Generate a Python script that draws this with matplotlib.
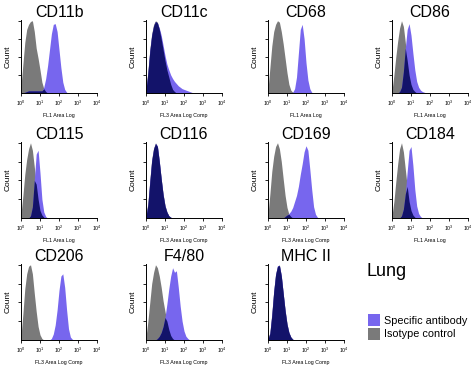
import numpy as np
import matplotlib
matplotlib.use("Agg")
import matplotlib.pyplot as plt
from matplotlib.patches import Patch

plt.rcParams["font.family"] = ["Liberation Sans", "DejaVu Sans"]
plt.rcParams["mathtext.fontset"] = "custom"
plt.rcParams["mathtext.rm"] = "Liberation Sans"

# ---------------- data (counts in % of panel max, bins every 0.1 log10 decade from 10^0) ----
BIN_STEP = 0.1
markers = ["CD11b", "CD11c", "CD68", "CD86",
           "CD115", "CD116", "CD169", "CD184",
           "CD206", "F4/80", "MHC II"]
xlabels = ["FL1 Area Log", "FL3 Area Log Comp", "FL1 Area Log", "FL1 Area Log",
           "FL1 Area Log", "FL3 Area Log Comp", "FL3 Area Log Comp", "FL1 Area Log",
           "FL3 Area Log Comp", "FL3 Area Log Comp", "FL3 Area Log Comp"]

isotype_CD11b = [10, 40, 70, 88, 95, 99, 100, 85, 62, 48, 32, 15, 6, 2]
specific_CD11b = [0, 0, 1, 2, 3, 3, 3, 3, 3, 3, 3, 3, 8, 20, 38, 60, 82, 95, 96, 85, 60, 35, 15, 5, 1]
isotype_CD11c = [5, 30, 60, 82, 95, 100, 98, 88, 75, 60, 45, 32, 22, 12, 5, 2]
specific_CD11c = [4, 28, 58, 80, 93, 99, 97, 90, 80, 66, 52, 40, 32, 25, 20, 16, 13, 10, 8, 6, 5, 4, 3, 2, 1]
isotype_CD68 = [5, 35, 65, 85, 95, 100, 98, 85, 68, 48, 28, 12, 4, 1]
specific_CD68 = [0, 0, 0, 0, 0, 0, 0, 0, 0, 0, 0, 0, 0, 1, 6, 22, 55, 88, 95, 75, 42, 18, 6, 1]
isotype_CD86 = [3, 25, 50, 72, 90, 100, 92, 70, 45, 25, 12, 5, 2]
specific_CD86 = [0, 0, 0, 0, 2, 8, 30, 62, 88, 96, 80, 55, 32, 16, 8, 4, 2, 1]
isotype_CD115 = [5, 30, 58, 78, 92, 100, 90, 68, 45, 25, 10, 4, 1]
specific_CD115 = [0, 0, 0, 0, 0, 3, 15, 50, 85, 90, 60, 25, 8, 2]
isotype_CD116 = [3, 20, 50, 78, 93, 100, 95, 75, 52, 32, 17, 8, 3, 1]
specific_CD116 = [2, 18, 48, 76, 92, 99, 96, 76, 52, 31, 16, 8, 3, 1]
isotype_CD169 = [5, 32, 62, 82, 95, 100, 92, 75, 52, 30, 14, 5, 2]
specific_CD169 = [0, 0, 0, 0, 0, 0, 0, 0, 0, 2, 4, 6, 9, 14, 22, 30, 42, 58, 72, 88, 96, 90, 65, 38, 15, 5, 1]
isotype_CD184 = [3, 22, 48, 72, 92, 100, 88, 65, 42, 22, 10, 4, 1]
specific_CD184 = [0, 0, 0, 0, 0, 3, 12, 32, 62, 90, 95, 70, 38, 16, 6, 2]
isotype_CD206 = [5, 35, 68, 88, 98, 100, 88, 62, 38, 18, 7, 2]
specific_CD206 = [0, 0, 0, 0, 0, 0, 0, 0, 0, 0, 0, 0, 0, 0, 0, 0, 2, 8, 20, 40, 66, 85, 88, 70, 40, 15, 4, 1]
isotype_F480 = [4, 25, 50, 75, 90, 100, 96, 85, 70, 52, 38, 25, 14, 6, 2]
specific_F480 = [0, 0, 0, 0, 0, 0, 2, 5, 10, 18, 30, 48, 68, 85, 96, 90, 92, 70, 45, 25, 12, 5, 2]
isotype_MHCII = [2, 10, 35, 65, 88, 98, 100, 85, 62, 40, 22, 10, 4, 1]
specific_MHCII = [1, 9, 33, 64, 87, 99, 99, 86, 62, 39, 21, 10, 4, 1]

isotype = [isotype_CD11b, isotype_CD11c, isotype_CD68, isotype_CD86,
           isotype_CD115, isotype_CD116, isotype_CD169, isotype_CD184,
           isotype_CD206, isotype_F480, isotype_MHCII]
specific = [specific_CD11b, specific_CD11c, specific_CD68, specific_CD86,
            specific_CD115, specific_CD116, specific_CD169, specific_CD184,
            specific_CD206, specific_F480, specific_MHCII]
tick_decades = [0, 1, 2, 3, 4]

# ---------------- style ----------------
C_SPEC = "#7766ee"
C_ISO = "#7a7a7a"
C_OVER = "#13136a"

W, H = 474, 365
fig = plt.figure(figsize=(W / 100, H / 100), dpi=100)
fig.patch.set_facecolor("white")

col_left = [21, 146, 268, 392]
row_top = [20, 142, 264]
row_h = [73, 76, 76]
ax_w = 76

NB = 41
for i, name in enumerate(markers):
    r, c = divmod(i, 4)
    left, top, h = col_left[c], row_top[r], row_h[r]
    ax = fig.add_axes([left / W, 1 - (top + h) / H, ax_w / W, h / H])
    iso = np.zeros(NB); iso[:len(isotype[i])] = isotype[i]
    spe = np.zeros(NB); spe[:len(specific[i])] = specific[i]
    x = 10 ** (np.arange(NB) * BIN_STEP)
    ax.fill_between(x, 0, iso, color=C_ISO, lw=0)
    ax.fill_between(x, 0, spe, color=C_SPEC, lw=0)
    ax.fill_between(x, 0, np.minimum(iso, spe), color=C_OVER, lw=0)
    ax.set_xscale("log")
    ax.set_xlim(1, 1e4)
    ax.set_ylim(0, 101)
    for s in ("top", "right"):
        ax.spines[s].set_visible(False)
    for s in ("left", "bottom"):
        ax.spines[s].set_linewidth(0.7)
    ax.set_yticks([25, 50, 75, 100])
    ax.set_yticklabels([])
    ax.tick_params(axis="y", length=2, width=0.6)
    ax.set_xticks([10 ** d for d in tick_decades])
    ax.set_xticklabels([rf"$10^{{{d}}}$" for d in tick_decades])
    ax.tick_params(axis="x", which="major", length=2, width=0.6, labelsize=3.8, pad=2)
    ax.tick_params(axis="x", which="minor", length=1.2, width=0.4)
    ax.set_xlabel(xlabels[i], fontsize=3.8, labelpad=4)
    ax.set_ylabel("Count", fontsize=6)
    ax.yaxis.set_label_coords(-9.5 / ax_w, 0.5)
    ax.set_title(name, fontsize=11.5, pad=2.5)

fig.text(367 / W, 1 - 272 / H, "Lung", fontsize=13, va="center", ha="left")
handles = [Patch(color=C_SPEC, lw=0), Patch(color=C_ISO, lw=0)]
fig.legend(handles, ["Specific antibody", "Isotype control"],
           loc="upper left", bbox_to_anchor=(364 / W, 1 - 310 / H),
           frameon=False, fontsize=7.8, handlelength=1.1, handleheight=1.35,
           handletextpad=0.35, labelspacing=0.12, borderaxespad=0)

fig.savefig("out.png", dpi=100)
